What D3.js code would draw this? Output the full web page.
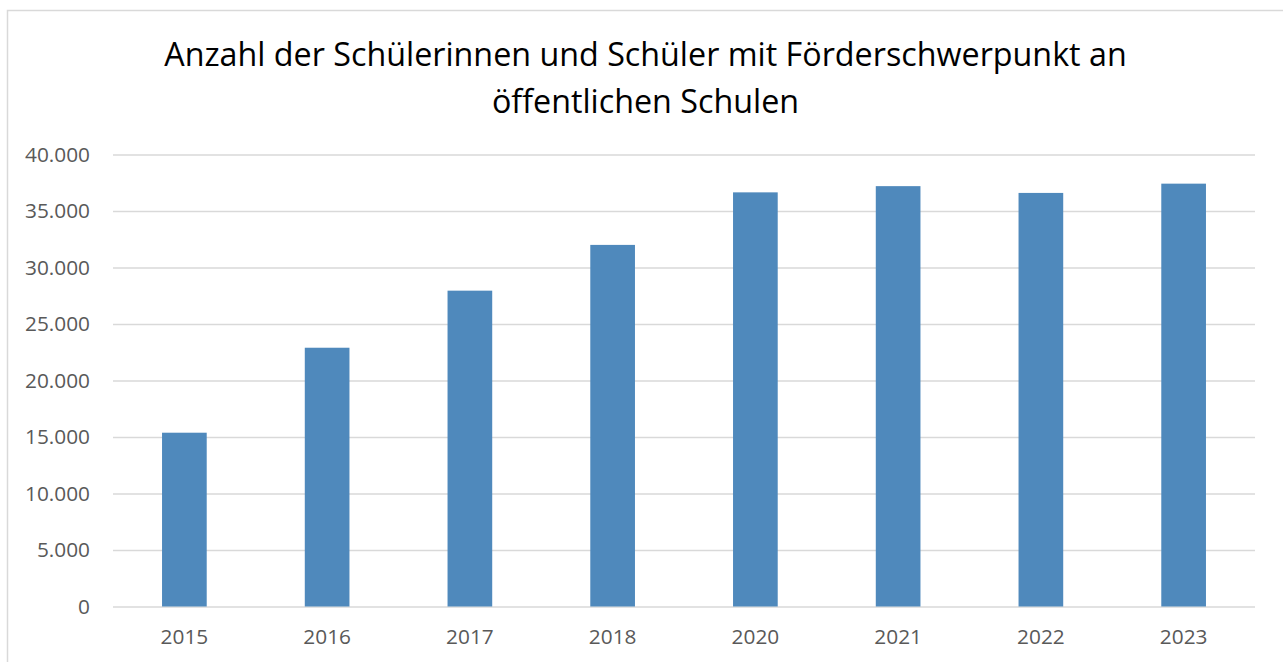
<!DOCTYPE html>
<html>
<head>
<meta charset="utf-8">
<script src="https://cdn.jsdelivr.net/npm/d3@7"></script>
<style>
  body { margin: 0; background: #fff; }
  svg { display: block; }
</style>
</head>
<body>
<svg width="1283" height="662"></svg>
<script>
var svg = d3.select('svg');

// data
var years = ['2015', '2016', '2017', '2018', '2020', '2021', '2022', '2023'];
var schueler = [15380, 22900, 27950, 32000, 36650, 37200, 36600, 37420];
var yTicks = [0, 5000, 10000, 15000, 20000, 25000, 30000, 35000, 40000];
var titleLines = ['Anzahl der Schülerinnen und Schüler mit Förderschwerpunkt an', 'öffentlichen Schulen'];

var font = 'Open Sans, sans-serif';
// plot area (note: "top" is taken by window.top, so use other names)
var plotLeft = 113, plotRight = 1255, plotTop = 154.5, plotBottom = 606.5;

var de = d3.formatLocale({decimal: ',', thousands: '.', grouping: [3], currency: ['', ' €']});
var fmt = de.format(',d');

// chart frame
svg.append('rect')
    .attr('x', 7.5)
    .attr('y', 10.5)
    .attr('width', 1300)
    .attr('height', 700)
    .attr('fill', 'white')
    .attr('stroke', '#d9d9d9')
    .attr('stroke-width', 1.5);

var x = d3.scaleBand()
    .domain(years)
    .range([plotLeft, plotRight])
    .paddingInner(0.687)
    .paddingOuter(0.3435);

var y = d3.scaleLinear()
    .domain([0, 40000])
    .range([plotBottom, plotTop]);

// fit the label size so "40.000" is about 65px wide
var probe = svg.append('text')
    .attr('font-family', font)
    .attr('font-size', 20)
    .text(fmt(40000));
var labelSize = 20 * 65 / probe.node().getComputedTextLength();
probe.remove();

// y axis with gridlines
var yAxis = svg.append('g')
    .attr('transform', 'translate(' + plotLeft + ',0)')
    .call(d3.axisLeft(y)
        .tickValues(yTicks)
        .tickFormat(fmt)
        .tickSizeInner(-(plotRight - plotLeft))
        .tickSizeOuter(0)
        .tickPadding(23));

yAxis.select('.domain').remove();
yAxis.selectAll('line')
    .attr('stroke', '#d9d9d9')
    .attr('stroke-width', 1.3);
yAxis.selectAll('text')
    .attr('font-family', font)
    .attr('font-size', labelSize)
    .attr('fill', '#595959');

// bars
svg.selectAll('rect.bar')
    .data(schueler)
    .enter()
    .append('rect')
    .attr('class', 'bar')
    .attr('x', function(d, i){
        return x(years[i]);
    })
    .attr('y', function(d){
        return y(d);
    })
    .attr('width', x.bandwidth())
    .attr('height', function(d){
        return y(0) - y(d);
    })
    .attr('fill', '#4f89bc');

// x axis labels
var xAxis = svg.append('g')
    .attr('transform', 'translate(0,' + plotBottom + ')')
    .call(d3.axisBottom(x).tickSize(0).tickPadding(23));

xAxis.select('.domain').remove();
xAxis.selectAll('text')
    .attr('font-family', font)
    .attr('font-size', labelSize)
    .attr('fill', '#595959');

// title, fitted so the first line spans about 963px
var title = svg.append('text')
    .attr('font-family', font)
    .attr('font-size', 30)
    .text(titleLines[0]);
var titleSize = 30 * 963 / title.node().getComputedTextLength();
title.remove();

svg.selectAll('text.title')
    .data(titleLines)
    .enter()
    .append('text')
    .attr('class', 'title')
    .attr('x', 645.5)
    .attr('y', function(d, i){
        return 66 + i * 47;
    })
    .attr('font-family', font)
    .attr('font-size', titleSize)
    .attr('fill', '#000')
    .attr('text-anchor', 'middle')
    .text(function(d){
        return d;
    });
</script>
</body>
</html>
